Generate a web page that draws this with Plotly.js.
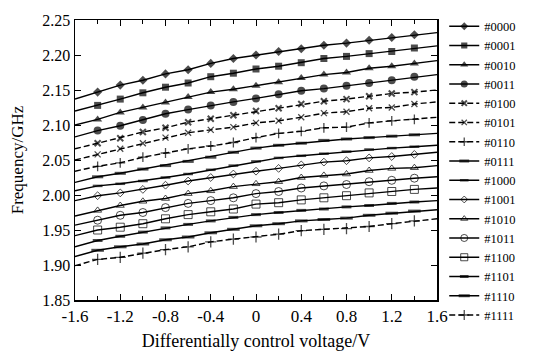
<!DOCTYPE html>
<html>
<head>
<meta charset="utf-8">
<script src="https://cdn.plot.ly/plotly-3.0.1.min.js"></script>
<style>html,body{margin:0;padding:0;background:#fff;}#chart{width:557px;height:358px;}</style>
</head>
<body>
<div id="chart"></div>
<script>
var voltage = [-1.6,-1.4,-1.2,-1.0,-0.8,-0.6,-0.4,-0.2,0,0.2,0.4,0.6,0.8,1.0,1.2,1.4,1.6];
var seriesNames = ['#0000','#0001','#0010','#0011','#0100','#0101','#0110','#0111','#1000','#1001','#1010','#1011','#1100','#1101','#1110','#1111'];

var f0000 = [2.137,2.147,2.157,2.164,2.173,2.179,2.188,2.195,2.200,2.205,2.209,2.214,2.217,2.221,2.225,2.229,2.232];
var f0001 = [2.120,2.128,2.137,2.146,2.154,2.160,2.169,2.174,2.180,2.184,2.189,2.195,2.198,2.202,2.205,2.210,2.213];
var f0010 = [2.100,2.108,2.118,2.125,2.132,2.140,2.147,2.151,2.156,2.161,2.167,2.172,2.175,2.181,2.184,2.188,2.192];
var f0011 = [2.083,2.092,2.099,2.107,2.116,2.122,2.128,2.133,2.138,2.144,2.149,2.152,2.156,2.160,2.164,2.169,2.172];
var f0100 = [2.066,2.074,2.081,2.090,2.096,2.104,2.109,2.114,2.120,2.124,2.130,2.134,2.137,2.141,2.145,2.147,2.150];
var f0101 = [2.050,2.058,2.066,2.074,2.082,2.089,2.093,2.097,2.103,2.106,2.111,2.117,2.119,2.124,2.125,2.130,2.133];
var f0110 = [2.034,2.041,2.046,2.054,2.060,2.066,2.070,2.075,2.082,2.088,2.091,2.096,2.097,2.103,2.106,2.108,2.111];
var f0111 = [2.018,2.026,2.031,2.037,2.042,2.048,2.054,2.061,2.067,2.071,2.074,2.078,2.080,2.082,2.084,2.086,2.088];
var f1000 = [2.006,2.013,2.016,2.020,2.025,2.030,2.036,2.042,2.048,2.053,2.056,2.059,2.062,2.065,2.067,2.069,2.071];
var f1001 = [1.992,1.999,2.003,2.008,2.014,2.020,2.025,2.030,2.034,2.038,2.043,2.047,2.049,2.053,2.055,2.058,2.061];
var f1010 = [1.970,1.978,1.985,1.991,1.995,2.002,2.006,2.012,2.016,2.019,2.025,2.028,2.030,2.035,2.038,2.039,2.042];
var f1011 = [1.957,1.964,1.971,1.975,1.982,1.988,1.992,1.996,2.002,2.005,2.010,2.013,2.015,2.019,2.021,2.024,2.026];
var f1100 = [1.942,1.950,1.954,1.959,1.966,1.972,1.976,1.980,1.987,1.989,1.993,1.996,1.999,2.003,2.005,2.008,2.010];
var f1101 = [1.926,1.935,1.941,1.947,1.953,1.958,1.963,1.968,1.972,1.975,1.978,1.980,1.983,1.985,1.988,1.990,1.992];
var f1110 = [1.912,1.921,1.926,1.930,1.936,1.940,1.946,1.951,1.956,1.959,1.963,1.965,1.967,1.971,1.974,1.977,1.979];
var f1111 = [1.899,1.908,1.911,1.917,1.922,1.926,1.933,1.937,1.940,1.944,1.949,1.951,1.952,1.955,1.959,1.963,1.966];

var yTickVals = [1.85,1.90,1.95,2.00,2.05,2.10,2.15,2.20,2.25];
var yTickText = ['1.85','1.90','1.95','2.00','2.05','2.10','2.15','2.20','2.25'];
var xTickVals = [-1.6,-1.2,-0.8,-0.4,0,0.4,0.8,1.2,1.6];
var xTickText = ['-1.6','-1.2','-0.8','-0.4','0','0.4','0.8','1.2','1.6'];

var allY = [f0000,f0001,f0010,f0011,f0100,f0101,f0110,f0111,f1000,f1001,f1010,f1011,f1100,f1101,f1110,f1111];
var styles = [
  {sym:'diamond', size:7, dash:'solid', lw:0},
  {sym:'square', size:7, dash:'solid', lw:0},
  {sym:'triangle-up', size:8, dash:'solid', lw:0},
  {sym:'circle', size:8, dash:'solid', lw:0},
  {sym:'x-thin-open', size:6, dash:'6px,3px', lw:2},
  {sym:'x-thin-open', size:6, dash:'6px,3px', lw:1.3},
  {sym:'cross-thin-open', size:7, dash:'6px,3px', lw:1.3},
  {sym:'line-ew-open', size:8, dash:'solid', lw:3},
  {sym:'line-ew-open', size:7, dash:'solid', lw:2.5},
  {sym:'diamond-open', size:6, dash:'solid', lw:1},
  {sym:'triangle-up-open', size:7, dash:'solid', lw:1},
  {sym:'circle-open', size:8, dash:'solid', lw:1},
  {sym:'square-open', size:8, dash:'solid', lw:1},
  {sym:'line-ew-open', size:7, dash:'solid', lw:3},
  {sym:'line-ew-open', size:9, dash:'solid', lw:3},
  {sym:'cross-thin-open', size:8, dash:'6px,3px', lw:1.3}
];

var traces = allY.map(function(yv, i){
  var s = styles[i];
  var sizes = voltage.map(function(v, k){ return (k === 0 || k === voltage.length-1) ? 0 : s.size; });
  return {
    x: voltage, y: yv, name: seriesNames[i], type: 'scatter', mode: 'lines+markers',
    line: {color: '#000', width: 1.4, dash: s.dash},
    marker: {symbol: s.sym, size: sizes, color: '#000', line: {color: '#000', width: s.lw}}
  };
});

var fam = '"Liberation Serif", "Times New Roman", serif';
var layout = {
  width: 557, height: 358,
  margin: {l: 75, r: 120, t: 16, b: 58},
  paper_bgcolor: '#fff', plot_bgcolor: '#fff',
  font: {family: fam, size: 15, color: '#000'},
  showlegend: true,
  legend: {x: 1.02, y: 1.03, xanchor: 'left', yanchor: 'top', maxheight: 358,
           font: {family: fam, size: 12.5, color: '#000'}, tracegroupgap: 0, itemwidth: 30, bgcolor: 'rgba(0,0,0,0)'},
  xaxis: {
    range: [-1.6, 1.6], tickvals: xTickVals, ticktext: xTickText,
    ticks: 'inside', ticklen: 6, tickwidth: 1, tickcolor: '#000',
    showline: true, linecolor: '#000', linewidth: 1.5, mirror: 'ticks',
    showgrid: false, zeroline: false,
    minor: {dtick: 0.2, tick0: -1.6, ticks: 'inside', ticklen: 4, tickcolor: '#000', showgrid: false},
    tickfont: {family: fam, size: 17, color: '#000'},
    title: {text: 'Differentially control voltage/V', font: {family: fam, size: 18, color: '#000'}, standoff: 9}
  },
  yaxis: {
    range: [1.85, 2.25], tickvals: yTickVals, ticktext: yTickText,
    ticks: 'inside', ticklen: 6, tickwidth: 1, tickcolor: '#000',
    showline: true, linecolor: '#000', linewidth: 1.5, mirror: 'ticks',
    showgrid: false, zeroline: false,
    tickfont: {family: fam, size: 16, color: '#000'},
    title: {text: 'Frequency/GHz', font: {family: fam, size: 17, color: '#000'}, standoff: 14}
  }
};

Plotly.newPlot('chart', traces, layout, {displayModeBar: false, staticPlot: true});
</script>
</body>
</html>
